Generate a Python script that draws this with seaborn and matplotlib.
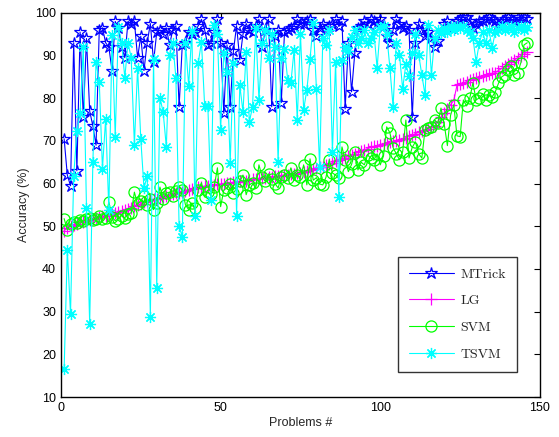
import numpy as np
import pandas as pd
import matplotlib
matplotlib.use("Agg")
import matplotlib.pyplot as plt
import seaborn as sns

series_names = ["MTrick", "LG", "SVM", "TSVM"]

mtrick = [
    70.5, 62, 59.5, 93, 63, 95.5, 75.5, 94, 77, 73.5,
    69, 96, 96.5, 93, 92, 86.5, 98, 96.5, 92, 89.5,
    98, 97.5, 98, 89.5, 94.5, 86.5, 93, 97.5, 88.5, 95.5,
    96, 95, 96.5, 92.5, 96, 97, 78, 92.5, 93, 95.5,
    95, 95.5, 97, 98.5, 96, 92.5, 93, 95.5, 98.5, 93,
    76.5, 92.5, 78, 91, 97, 89, 95, 97.5, 96, 95.5,
    97, 98.5, 92, 96, 98.5, 78, 94.5, 96, 79, 95.5,
    96, 96.5, 97, 98.5, 97.5, 97.5, 98, 98.5, 96, 94.5,
    96.5, 97.5, 96, 97, 97.5, 98.5, 97, 98, 77.5, 93,
    81.5, 90.5, 96.5, 97, 98, 97.5, 98.5, 98, 97.5, 98.5,
    97, 94.5, 93, 96, 98.5, 97.5, 96.5, 97, 96, 75.5,
    93, 97.5, 96, 94.5, 95.5, 94, 92, 93.5, 95.5, 97.5,
    98, 96.5, 97, 98, 98.5, 99, 99, 98, 96.5, 97.5,
    98, 98, 98.5, 99, 98.5, 98, 97.5, 98, 98.5, 99,
    98.5, 98, 99, 98.5, 99, 98.5,
]

lg = [
    49.0, 49.5, 50.0, 50.3, 50.6, 50.9, 51.1, 51.3, 51.5, 51.7,
    51.9, 52.1, 52.3, 52.5, 52.7, 52.9, 53.1, 53.3, 53.5, 53.8,
    54.1, 54.4, 54.7, 55.0, 55.3, 55.6, 55.9, 56.1, 56.3, 56.5,
    56.7, 56.9, 57.1, 57.3, 57.5, 57.7, 57.9, 58.1, 58.3, 58.5,
    58.7, 58.9, 59.1, 59.3, 59.4, 59.5, 59.6, 59.7, 59.8, 59.9,
    60.0, 60.1, 60.2, 60.3, 60.4, 60.5, 60.6, 60.7, 60.8, 61.0,
    61.1, 61.2, 61.3, 61.4, 61.5, 61.6, 61.7, 61.8, 61.9, 62.0,
    62.1, 62.2, 62.3, 62.4, 62.6, 62.8, 63.0, 63.2, 63.4, 63.6,
    63.8, 64.0, 64.3, 64.6, 64.9, 65.2, 65.5, 65.8, 66.1, 66.4,
    66.7, 67.0, 67.3, 67.6, 67.9, 68.2, 68.5, 68.7, 68.9, 69.1,
    69.3, 69.5, 69.7, 69.9, 70.1, 70.3, 70.5, 70.8, 71.1, 71.4,
    71.7, 72.0, 72.3, 72.6, 72.9, 73.2, 73.5, 74.5, 75.5, 76.5,
    77.5, 78.5, 79.5, 83.0, 83.3, 83.6, 83.9, 84.2, 84.5, 84.8,
    85.0, 85.2, 85.4, 85.6, 85.8, 86.0, 86.5, 87.0, 87.5, 88.0,
    88.5, 89.0, 89.5, 90.0, 90.4, 90.8,
]

svm = [
    51.8, 49.2, 50.5, 51.0, 50.8, 51.5, 51.2, 51.8, 52.0, 51.5,
    51.8, 52.3, 51.6, 52.0, 55.7, 52.2, 51.3, 51.8, 52.5, 52.0,
    52.8, 53.2, 58.0, 55.2, 56.0, 57.0, 55.0, 56.5, 53.9, 55.4,
    59.2, 56.5, 57.8, 58.0, 57.0, 58.3, 59.2, 58.5, 55.0, 53.9,
    55.5, 54.2, 58.5, 60.2, 56.9, 58.0, 57.5, 59.3, 63.7, 54.6,
    58.5, 59.0, 60.0, 57.8, 58.8, 60.5, 62.0, 57.4, 59.7, 60.2,
    58.9, 64.4, 61.6, 60.5, 62.3, 61.0, 60.0, 59.0, 61.5, 62.0,
    61.2, 63.7, 60.8, 62.0, 61.5, 64.4, 59.7, 65.8, 60.8, 61.4,
    59.9, 59.7, 61.5, 65.6, 62.5, 62.0, 61.2, 68.6, 65.5, 62.8,
    64.5, 67.4, 63.2, 65.0, 64.4, 66.7, 66.0, 65.5, 67.0, 64.4,
    66.5, 73.3, 71.9, 68.4, 67.0, 65.6, 67.5, 74.9, 66.0, 68.5,
    69.8, 67.0, 66.0, 72.6, 73.0, 73.3, 74.9, 74.2, 77.7, 74.0,
    68.9, 76.0, 78.5, 71.2, 71.0, 79.6, 78.2, 80.0, 83.6, 79.6,
    80.1, 81.0, 79.6, 80.8, 80.3, 81.5, 83.5, 85.0, 85.5, 86.7,
    87.5, 85.5, 86.0, 88.3, 92.5, 93.0,
]

tsvm = [
    16.5, 44.5, 29.5, 61.8, 72.4, 76.6, 92, 54.3, 27.2, 65.1,
    88.5, 83.8, 63.5, 75.2, 53.9, 94.8, 71, 96.7, 93, 84.8,
    93, 89.5, 69.1, 87.1, 70.5, 59, 61.8, 28.8, 89.2, 35.6,
    80.1, 76.8, 68.6, 90.2, 93, 84.8, 50.1, 47.5, 93, 82.9,
    95.8, 52.5, 88.3, 93.2, 78.2, 78.2, 56.2, 97.2, 95, 72.6,
    90.6, 86.2, 64.9, 88.3, 52.5, 83.1, 76.8, 90.9, 74.5, 78,
    96.5, 79.6, 93, 96, 89.5, 95, 92, 65.1, 89.5, 91.6,
    84.3, 83.6, 91.3, 75, 95, 77.3, 82, 89.2, 97.7, 82.2,
    63.9, 94.1, 92.5, 96, 67.4, 88.5, 56.9, 89, 92, 91,
    94.4, 96, 93, 94.1, 96, 93, 94.1, 95.5, 87.1, 96.7,
    97, 95, 87.1, 78, 93, 90.2, 82.2, 88, 85.2, 90.6,
    95, 90.2, 85.5, 80.8, 97.2, 85.5, 94, 96, 95.3, 96.5,
    95.5, 97, 96, 97, 96.5, 97, 96, 95.5, 94.1, 88.5,
    93, 95.5, 93, 96, 91.8, 95.5, 96, 97, 96, 96.5,
    97, 95.5, 96.5, 97, 96, 96.7,
]

x_ticks = [0, 50, 100, 150]
y_ticks = [10, 20, 30, 40, 50, 60, 70, 80, 90, 100]

problems = np.arange(1, len(lg) + 1)
df = pd.DataFrame({"Problem": problems, "MTrick": mtrick, "LG": lg,
                   "SVM": svm, "TSVM": tsvm})

sns.set_style("white")
plt.rcParams["font.family"] = ["Liberation Sans", "DejaVu Sans"]

fig = plt.figure(figsize=(5.59, 4.37), dpi=100)
ax = fig.add_axes([0.109, 0.0915, 0.857, 0.879])

styles = {
    "MTrick": dict(color=(0, 0, 1), marker="*", markerfacecolor="none",
                   markeredgecolor=(0, 0, 1), markersize=9, markeredgewidth=0.9),
    "LG": dict(color=(1, 0, 1), marker="+", markerfacecolor=(1, 0, 1),
               markeredgecolor=(1, 0, 1), markersize=8, markeredgewidth=0.9),
    "SVM": dict(color=(0, 1, 0), marker="o", markerfacecolor="none",
                markeredgecolor=(0, 1, 0), markersize=8, markeredgewidth=0.9),
    "TSVM": dict(color=(0, 1, 1), marker=(8, 2, 0), markersize=8,
                 markerfacecolor=(0, 1, 1),
                 markeredgecolor=(0, 1, 1), markeredgewidth=0.9),
}

for name in series_names:
    sns.lineplot(data=df, x="Problem", y=name, ax=ax, label=name,
                 linewidth=0.8, estimator=None, sort=False, **styles[name])

ax.set_xlim(0, 150)
ax.set_ylim(10, 100)
ax.set_xticks(x_ticks)
ax.set_yticks(y_ticks)
ax.tick_params(direction="in", top=True, right=True, length=4,
               width=0.8, labelsize=9, colors="black")
for s in ax.spines.values():
    s.set_visible(True)
    s.set_color("black")
    s.set_linewidth(1.0)
ax.set_xlabel("Problems #", fontsize=9, labelpad=2)
ax.set_ylabel("Accuracy (%)", fontsize=9, labelpad=4)

leg = ax.legend(loc="lower right", bbox_to_anchor=(0.967, 0.048),
                prop={"family": ["cmr10", "DejaVu Serif"], "size": 10},
                handlelength=3.2, frameon=True, fancybox=False,
                borderpad=0.8, labelspacing=1.0, handletextpad=0.5)
leg.get_frame().set_edgecolor("black")
leg.get_frame().set_linewidth(1.0)

fig.savefig("out.png", dpi=100)
